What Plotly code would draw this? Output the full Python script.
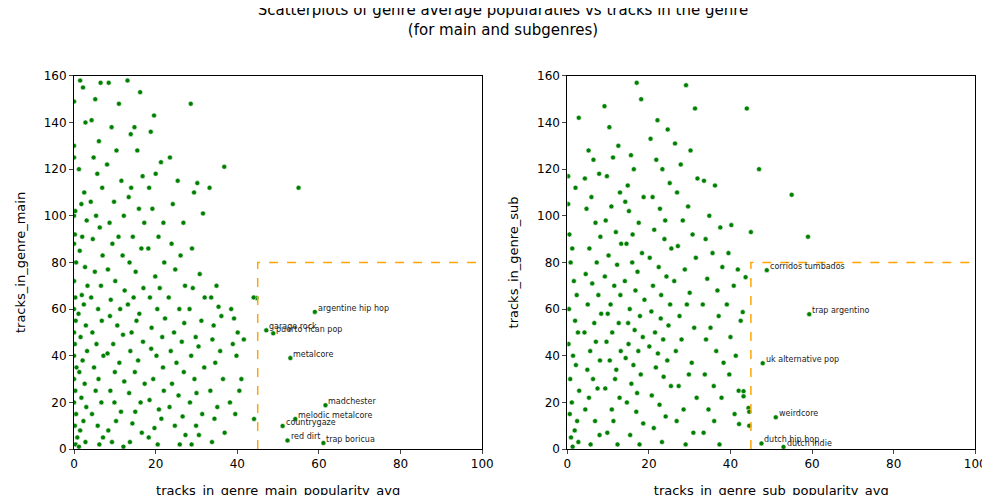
import plotly.graph_objects as go

main_pop = [0,0,0,0.3,0,0.2,0,0.5,0,0.3, 0,0.4,0,0.2,0,0.6,0,0.3,0,0.5, 0.2,0.8,0.4,
 1.5,2.2,2.8,1.2,2.5,1.8,3.1,2.0,1.4,2.7, 3.3,1.9,2.4,1.1,2.9,1.6,3.2,2.1,1.3,2.6, 1.8,3.0,2.3,1.5,2.8,1.2,
 6.5,5.2,4.3,6.1,4.8,5.7,6.9,4.1,5.4,6.3, 4.6,7.0,5.1,6.6,4.2,5.9,6.8,4.5,5.5,7.2, 4.9,6.0,5.3,6.7,4.4,5.8,7.1,6.2,
 8.5,11.0,9.2,10.4,8.1,11.6,9.8,12.2,8.7,10.9, 9.4,11.9,8.3,10.1,12.4,9.0,11.3,8.8,10.6,12.0, 9.6,8.2,11.1,10.0,12.3,8.9,9.9,11.5,10.3,8.4, 9.3,12.1,
 13.1,16.2,14.8,13.9,15.5,16.8,14.0,13.4,15.9,17.2, 14.4,16.5,13.6,15.1,17.0,14.6,13.2,16.0,15.3,14.1, 16.9,13.8,15.7,14.9,17.3,13.5,16.3,15.0,14.3,16.6, 13.7,
 19.6,18.8,21.3,20.0,18.4,19.2,21.9,20.7,18.2,22.1, 19.9,21.0,18.6,20.4,22.3,19.0,21.6,18.9,20.2,21.8, 19.4,22.0,18.5,20.8,21.4,19.7,18.3,20.5,
 23.5,25.4,24.2,26.8,23.9,26.1,24.8,27.2,23.2,25.8, 27.0,24.5,26.4,23.7,25.1,26.9,24.0,25.6,23.4,26.6, 24.7,27.3,25.9,
 28.6,30.2,29.4,31.6,28.9,30.8,29.1,32.0,28.3,31.2, 29.8,30.5,28.7,31.9,29.5,30.0,28.4,31.4,29.9,30.6, 28.8,
 36.8,33.2,34.9,33.6,35.4,36.1,34.2,33.9,35.8,34.6, 36.5,33.4,35.1,34.4,36.9,33.8,
 38.5,39.2,40.1,38.9,41.6,39.8,41.0,40.5,38.2,39.5, 55.0,44.7,44.1,44.0]
main_tracks = [149,130,125,102,100,92,88,80,72,65, 60,55,50,45,40,35,30,25,20,15, 10,5,2,
 158,155,140,120,110,105,98,91,85,78, 70,66,62,58,53,48,42,38,33,28, 22,18,12,8,3,1,
 157,150,141,132,125,118,112,106,100,95, 90,83,76,70,65,60,55,50,45,40, 35,30,25,20,15,10,5,2,
 157,148,138,128,122,115,106,100,97,91, 88,83,77,72,68,64,60,57,53,49, 45,41,37,33,29,25,20,16,12,8, 3,1,
 158,153,138,135,128,117,112,108,103,97, 91,86,80,76,69,65,62,58,55,50, 46,42,38,33,28,24,20,16,11,7, 3,
 143,136,123,118,112,103,97,91,86,80, 74,69,65,60,56,52,48,43,40,35, 30,25,21,17,13,9,5,2,
 125,115,105,97,88,83,77,70,65,60, 54,50,46,42,37,33,28,23,18,14, 10,6,2,
 148,114,110,101,86,75,69,65,60,55, 48,44,40,35,30,24,20,15,10,6, 2,
 121,112,70,65,61,57,53,47,42,37, 30,25,18,13,7,3,
 60,56,50,45,47,40,30,25,20,15, 112,64.8,12.9,65]

main_labels = ["argentine hip hop","garage rock","puerto rican pop","metalcore","madchester",
               "melodic metalcore","countrygaze","red dirt","trap boricua"]
main_label_pop = [59.0,47.1,48.8,53.0,61.6,54.2,51.1,52.3,61.1]
main_label_tracks = [58.8,50.9,49.6,39.0,18.8,12.9,9.9,3.7,2.6]

sub_pop = [0.2,0.5,1.2,2.8,0.8,1.6,2.3,0.4,1.9,2.6, 0.3,1.4,2.1,0.7,2.9,1.1,0.6,2.4,1.8,0.9, 2.7,1.3,0.2,2.0,
 5.2,6.4,4.3,7.8,5.9,4.7,6.9,8.1,5.4,7.2, 4.5,6.1,7.6,5.0,8.3,6.6,4.2,7.0,5.6,8.0, 4.9,6.3,7.4,5.3,4.4,6.8,7.9,5.7,
 9.1,10.3,12.5,11.2,9.7,12.9,10.8,9.4,11.9,13.2, 10.1,12.2,9.2,11.5,13.0,10.6,9.9,12.6,11.0,9.6, 13.1,10.4,12.0,11.7,9.3,12.8,10.9,11.3,9.8,12.3,
 14.2,17.0,18.1,15.6,16.3,14.8,18.7,15.1,17.5,16.0, 14.5,18.3,15.9,17.2,14.1,16.7,18.9,15.3,17.8,14.9, 16.5,18.5,15.0,17.4,14.3,16.2,18.0,15.7,17.1,14.6, 16.9,18.6,15.4,17.7,
 22.1,20.4,24.6,21.8,23.3,25.1,20.9,22.7,24.0,21.3, 23.8,25.5,20.2,22.4,24.3,21.0,23.0,25.2,20.6,22.9, 24.8,21.5,23.5,20.1,22.2,24.5,21.7,23.6,25.4,20.7, 22.6,24.1,21.2,23.2,
 29.1,31.3,26.4,30.2,27.8,31.9,26.9,29.6,28.3,30.7, 27.1,31.5,28.8,26.2,30.0,29.3,27.5,31.1,28.0,26.6, 30.5,29.8,27.3,31.7,28.5,26.8,30.9,29.0,
 33.5,36.2,34.8,37.5,33.9,35.6,38.0,34.3,36.8,33.2, 37.1,35.1,34.0,36.5,38.3,33.7,35.9,37.8,34.6,36.0, 33.4,37.3,
 40.2,39.5,41.8,40.8,39.1,42.5,40.0,41.3,39.7,42.0, 41.0,43.7,43.0,43.2,43.2,44.4,44.6,42.1,44.6,55.0, 59.0,47.0,45.0,44.0]
sub_tracks = [117,92,86,142,80,72,66,60,55,50, 45,40,36,30,25,20,15,12,8,5, 3,1,105,112,
 128,124,116,118,108,103,97,91,86,80, 75,71,66,62,58,54,50,46,42,38, 34,30,26,22,17,12,6,2,
 147,138,130,125,117,110,104,98,93,88, 83,79,74,70,66,62,58,54,50,46, 42,38,34,30,26,22,17,12,7,2,
 106,157,150,126,120,113,108,102,97,92, 88,84,80,76,72,68,64,60,57,54, 51,48,45,42,39,36,32,28,24,20, 16,11,6,2,
 141,133,137,124,120,114,108,103,98,94, 90,86,82,78,74,70,66,62,59,56, 53,50,47,44,41,38,35,31,27,23, 19,14,9,3,
 156,146,131,128,122,116,110,104,98,92, 87,82,77,72,67,62,57,52,47,42, 37,32,27,22,17,12,7,2,
 115,113,100,95,90,84,78,73,68,62, 57,52,47,42,37,32,27,22,17,12, 7,2,
 96,84,77,70,62,55,48,40,32,25, 15,73.7,58.7,24.8,22.6,17.6,16.0,10.7,10.0,109, 91,120,93,146]

sub_labels = ["corridos tumbados","trap argentino","uk alternative pop","weirdcore","dutch hip hop","dutch indie"]
sub_label_pop = [48.9,59.3,47.9,51.1,47.6,53.0]
sub_label_tracks = [76.7,57.8,36.8,13.6,2.4,0.9]

fig = go.Figure()
mk = dict(color="green", size=5, line=dict(color="white", width=0.6))
fig.add_trace(go.Scatter(x=main_pop + main_label_pop, y=main_tracks + main_label_tracks,
                         mode="markers", marker=mk, xaxis="x", yaxis="y", showlegend=False))
fig.add_trace(go.Scatter(x=sub_pop + sub_label_pop, y=sub_tracks + sub_label_tracks,
                         mode="markers", marker=mk, xaxis="x2", yaxis="y2", showlegend=False))

ann = []
for t, x, y in zip(main_labels, main_label_pop, main_label_tracks):
    ann.append(dict(x=x, y=y, text=t, xref="x", yref="y", xanchor="left", yanchor="bottom",
                    xshift=1, yshift=-3, showarrow=False, font=dict(size=8, color="#222")))
for t, x, y in zip(sub_labels, sub_label_pop, sub_label_tracks):
    ann.append(dict(x=x, y=y, text=t, xref="x2", yref="y2", xanchor="left", yanchor="bottom",
                    xshift=1, yshift=-3, showarrow=False, font=dict(size=8, color="#222")))

shapes = []
for xr, yr in (("x", "y"), ("x2", "y2")):
    shapes.append(dict(type="path", path="M 45 0 L 45 80 L 100 80", xref=xr, yref=yr,
                       line=dict(color="orange", width=1.5, dash="dash")))

ax = dict(range=[0, 100], tickvals=[0, 20, 40, 60, 80, 100], showgrid=False, zeroline=False,
          showline=True, mirror=True, linecolor="black", ticks="outside", ticklen=4,
          tickfont=dict(size=12, color="black"), automargin=False)
ay = dict(range=[0, 160], tickvals=list(range(0, 161, 20)), showgrid=False, zeroline=False,
          showline=True, mirror=True, linecolor="black", ticks="outside", ticklen=4,
          tickfont=dict(size=12, color="black"), automargin=False)

fig.update_layout(
    width=990, height=495, margin=dict(l=0, r=0, t=0, b=0, autoexpand=False),
    plot_bgcolor="white", paper_bgcolor="white",
    font=dict(family="DejaVu Sans", color="black"),
    title=dict(text="Scatterplots of genre average popularaties vs tracks in the genre<br>(for main and subgenres)",
               x=0.5, y=0.985, xanchor="center", yanchor="top", font=dict(size=15), automargin=False),
    xaxis=dict(ax, domain=[0.0667, 0.479], title=dict(text="tracks_in_genre_main_popularity_avg", font=dict(size=13))),
    yaxis=dict(ay, domain=[0.109, 0.863], title=dict(text="tracks_in_genre_main", font=dict(size=13))),
    xaxis2=dict(ax, domain=[0.565, 0.977], anchor="y2", title=dict(text="tracks_in_genre_sub_popularity_avg", font=dict(size=13))),
    yaxis2=dict(ay, domain=[0.109, 0.863], anchor="x2", title=dict(text="tracks_in_genre_sub", font=dict(size=13))),
    annotations=ann, shapes=shapes,
)
fig.write_html("out.html")
